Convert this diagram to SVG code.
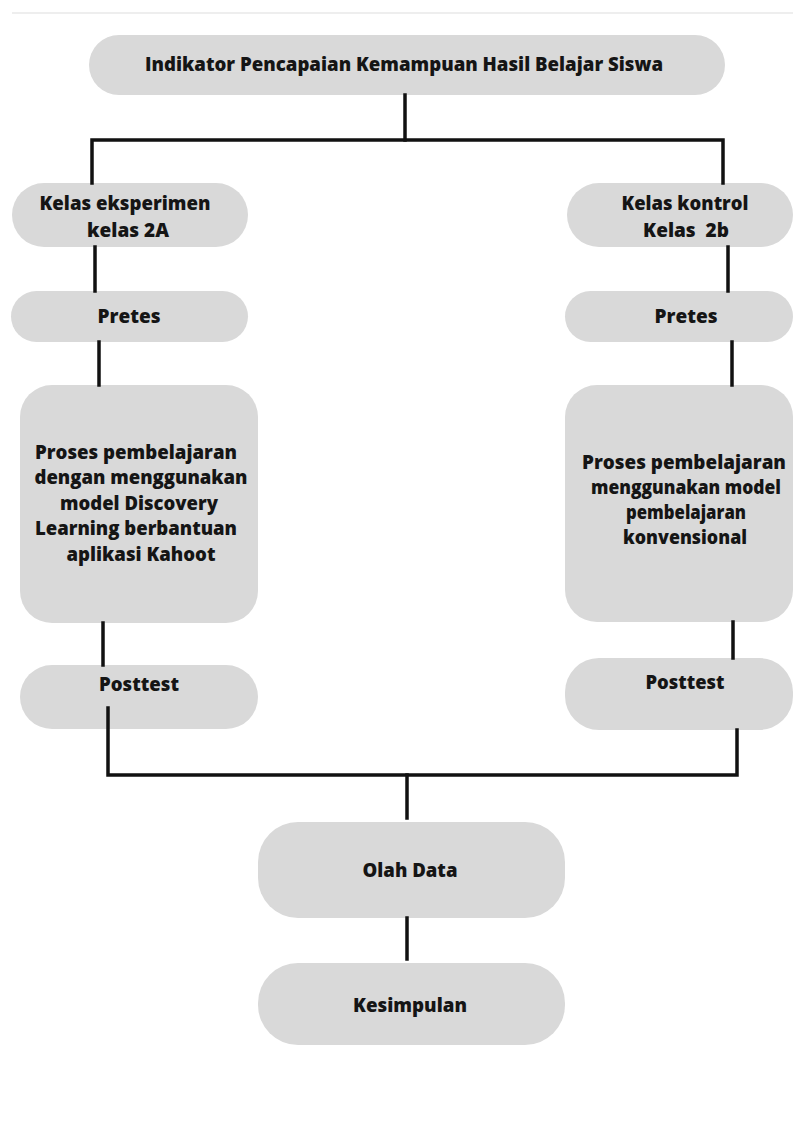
<svg xmlns="http://www.w3.org/2000/svg" width="793" height="1133" viewBox="0 0 793 1133">
<style>
.n{fill:#d9d9d9}
.t{font-family:"Open Sans","Liberation Sans",sans-serif;font-weight:800;font-size:19px;fill:#151515;text-anchor:middle}
.c{fill:none;stroke:#111;stroke-width:3.5;stroke-linecap:square;stroke-linejoin:miter}
</style>
<rect x="0" y="0" width="793" height="1133" fill="#ffffff"/>
<line x1="12" y1="13" x2="793" y2="13" stroke="#eeeeee" stroke-width="2"/>
<g id="n-title">
<rect class="n" x="89" y="35" width="636" height="60" rx="30"/>
<text class="t" x="404" y="71" font-size="18.5" textLength="518" lengthAdjust="spacingAndGlyphs">Indikator Pencapaian Kemampuan Hasil Belajar Siswa</text>
</g>
<g id="n-eksperimen">
<rect class="n" x="12" y="183" width="236" height="64" rx="32"/>
<text class="t" x="125" y="209.5" textLength="171" lengthAdjust="spacingAndGlyphs">Kelas eksperimen</text>
<text class="t" x="128" y="236.5">kelas 2A</text>
</g>
<g id="n-kontrol">
<rect class="n" x="567" y="183" width="226" height="64" rx="32"/>
<text class="t" x="685" y="209.5" textLength="127" lengthAdjust="spacingAndGlyphs">Kelas kontrol</text>
<text class="t" x="686" y="236.5" xml:space="preserve">Kelas  2b</text>
</g>
<g id="n-pretes-l">
<rect class="n" x="11" y="291" width="237" height="51" rx="25.5"/>
<text class="t" x="129" y="322.5">Pretes</text>
</g>
<g id="n-pretes-r">
<rect class="n" x="565" y="291" width="228" height="51" rx="25.5"/>
<text class="t" x="686" y="322.5">Pretes</text>
</g>
<g id="n-proses-l">
<rect class="n" x="20" y="385" width="238" height="238" rx="32"/>
<text class="t" x="136" y="458.5" textLength="202" lengthAdjust="spacingAndGlyphs">Proses pembelajaran</text>
<text class="t" x="141" y="484" textLength="213" lengthAdjust="spacingAndGlyphs">dengan menggunakan</text>
<text class="t" x="139" y="509.5" textLength="158" lengthAdjust="spacingAndGlyphs">model Discovery</text>
<text class="t" x="136" y="534.5" textLength="202" lengthAdjust="spacingAndGlyphs">Learning berbantuan</text>
<text class="t" x="141" y="561" textLength="149" lengthAdjust="spacingAndGlyphs">aplikasi Kahoot</text>
</g>
<g id="n-proses-r">
<rect class="n" x="565" y="385" width="228" height="237" rx="32"/>
<text class="t" x="684" y="468.5" textLength="204" lengthAdjust="spacingAndGlyphs">Proses pembelajaran</text>
<text class="t" x="686" y="493.5" textLength="190" lengthAdjust="spacingAndGlyphs">menggunakan model</text>
<text class="t" x="686" y="518.5" textLength="120" lengthAdjust="spacingAndGlyphs">pembelajaran</text>
<text class="t" x="685" y="543.5" textLength="124" lengthAdjust="spacingAndGlyphs">konvensional</text>
</g>
<g id="n-posttest-l">
<rect class="n" x="20" y="665" width="238" height="64" rx="32"/>
<text class="t" x="139" y="690.5" textLength="80" lengthAdjust="spacingAndGlyphs">Posttest</text>
</g>
<g id="n-posttest-r">
<rect class="n" x="565" y="658" width="228" height="72" rx="34"/>
<text class="t" x="685" y="688.5" textLength="79" lengthAdjust="spacingAndGlyphs">Posttest</text>
</g>
<g id="n-olah">
<rect class="n" x="258" y="822" width="307" height="96" rx="40"/>
<text class="t" x="410" y="876.5" textLength="95" lengthAdjust="spacingAndGlyphs">Olah Data</text>
</g>
<g id="n-kesimpulan">
<rect class="n" x="258" y="963" width="307" height="82" rx="40"/>
<text class="t" x="410" y="1011.5" textLength="114" lengthAdjust="spacingAndGlyphs">Kesimpulan</text>
</g>
<g id="connectors">
<line class="c" x1="405" y1="95" x2="405" y2="140"/>
<polyline class="c" points="92,183 92,140 723,140 723,183"/>
<line class="c" x1="95" y1="247" x2="95" y2="291"/>
<line class="c" x1="728" y1="247" x2="728" y2="291"/>
<line class="c" x1="99" y1="342" x2="99" y2="385"/>
<line class="c" x1="732" y1="342" x2="732" y2="385"/>
<line class="c" x1="103" y1="623" x2="103" y2="665"/>
<line class="c" x1="733" y1="622" x2="733" y2="658"/>
<polyline class="c" points="108,708 108,775 737,775 737,730"/>
<line class="c" x1="407" y1="775" x2="407" y2="818"/>
<line class="c" x1="407" y1="918" x2="407" y2="959"/>
</g>
</svg>
